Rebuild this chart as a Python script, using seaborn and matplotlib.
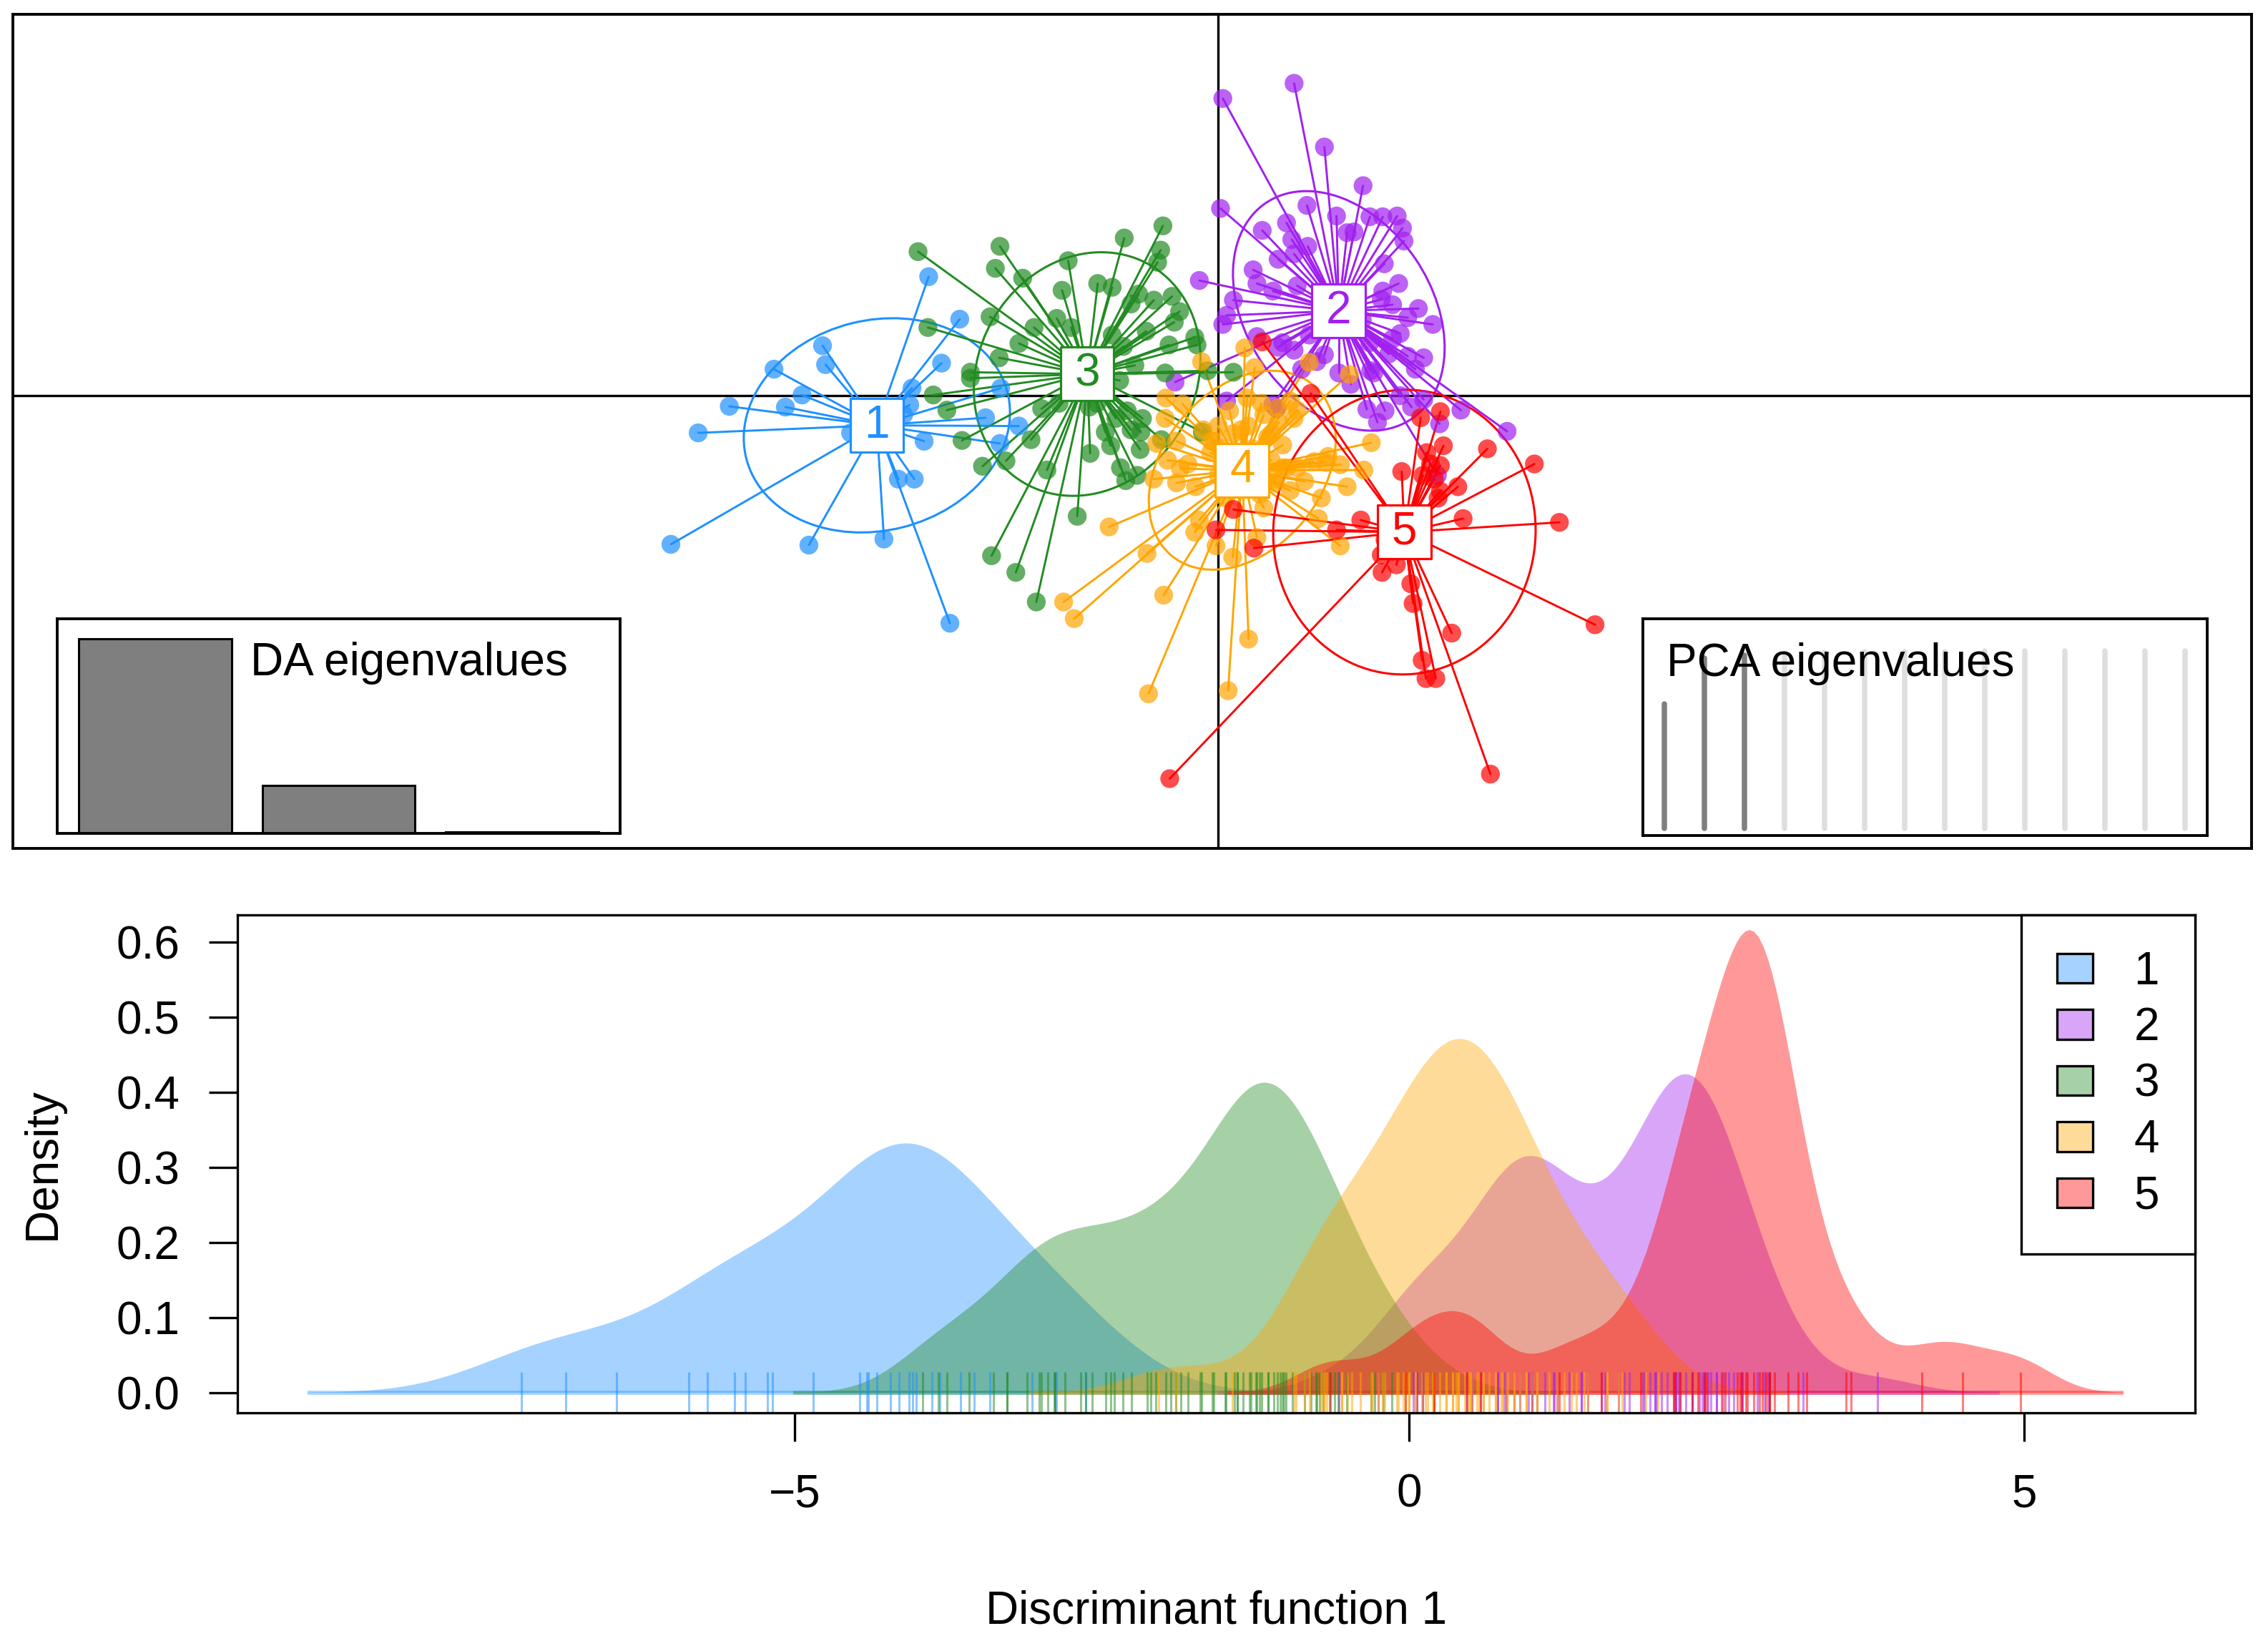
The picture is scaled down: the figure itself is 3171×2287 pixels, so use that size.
import numpy as np
import pandas as pd
import seaborn as sns
from matplotlib import pyplot as plt
from matplotlib.colors import to_rgba
from matplotlib.patches import Ellipse, Patch

sns.set_theme(style="white")
plt.rcParams["font.family"] = ["Liberation Sans", "DejaVu Sans"]
plt.rcParams["text.color"] = "black"
plt.rcParams["axes.labelcolor"] = "black"
plt.rcParams["xtick.color"] = "black"
plt.rcParams["ytick.color"] = "black"

GROUPS = ["1", "2", "3", "4", "5"]
COLORS = ["#1E90FF", "#A020F0", "#228B22", "#FFA500", "#FF0000"]

# discriminant function scores (LD1, LD2) per cluster
grp1_ld1 = [-3.82, -3.41, -5.22, -5.18, -5.86, -3.65, -4.04, -5.49, -6.45, -5.71, -6.86, -4.07, -2.87, -3.07,
            -2.63, -4.85, -3.88, -2.88, -4.22, -4.01, -7.22, -5.40, -4.41, -3.54, -4.47, -4.40, -4.33, -4.15]
grp1_ld2 = [1.57, 1.01, 0.66, 0.41, 0.35, 0.43, 0.10, 0.01, -0.14, -0.15, -0.49, -0.12, 0.10, -0.29,
            -0.40, -0.49, -0.60, -0.63, -1.10, -1.10, -1.96, -1.97, -1.89, -3.00, -0.20, -0.50, -0.30, -0.25]

grp2_ld1 = [0.06, 1.00, 1.40, 1.91, 0.03, 1.17, 1.56, 2.00, 2.17, 2.36, 2.43, 2.45, 1.70, 1.79, 0.58, 0.90,
            0.97, 1.18, 1.00, 0.79, 0.46, 2.19, -0.25, 0.51, 1.04, 0.72, 2.38, 2.17, 2.15, 0.20, 0.11, 0.06,
            2.64, 2.83, 2.50, 2.40, 0.51, 0.79, 1.40, 2.71, 2.50, 2.01, 1.59, 0.11, 0.72, 1.96, 2.71, 2.92,
            3.20, 3.81, 2.89, -0.57, 0.77, 1.20, 1.00, 0.85, 1.30, 2.00, 2.25, 2.05, 1.90, 1.45, 2.30, 2.60,
            1.10, 2.20, 2.40, 2.55, 2.10, 2.30, 1.75]
grp2_ld2 = [3.92, 4.12, 3.28, 2.77, 2.47, 2.51, 2.37, 2.36, 2.36, 2.37, 2.21, 2.04, 2.15, 2.16, 2.18, 2.28,
            2.06, 1.97, 1.87, 1.80, 1.66, 1.74, 1.52, 1.48, 1.45, 1.38, 1.48, 1.38, 1.27, 1.26, 1.06, 0.94,
            1.15, 0.94, 1.03, 0.82, 0.78, 0.64, 0.54, 0.50, 0.52, 0.33, 0.30, -0.07, -0.12, -0.18, -0.05, -0.37,
            -0.19, -0.47, -1.05, 0.18, -0.17, 0.80, 0.60, 0.70, 0.45, 0.70, 0.55, 0.30, 1.00, 1.30, 0.75, 0.35,
            0.35, -0.20, 0.00, -0.15, -0.35, 1.20, 0.15]

grp3_ld1 = [-3.96, -2.88, -2.94, -2.58, -1.98, -1.24, -0.73, -0.76, -0.80, -2.06, -1.59, -1.40, -2.13, -1.94,
            -2.43, -3.01, -3.83, -2.63, -2.89, -3.27, -3.27, -3.76, -3.58, -3.38, -3.11, -2.80, -2.47, -2.33,
            -2.26, -1.86, -1.69, -1.49, -1.42, -1.29, -1.22, -1.07, -1.03, -1.02, -0.75, -0.65, -0.58, -0.51,
            -0.61, -0.85, -1.05, -1.15, -0.31, -0.28, 0.20, -0.14, -0.21, -2.99, -2.67, -2.40, -1.50, -1.30,
            -1.10, -1.90, -1.20, -1.00, -1.80, -1.40, -0.70, -1.60, -1.25, -0.95, -1.15, -2.10, -1.35, -1.70]
grp3_ld2 = [1.90, 1.97, 1.68, 1.55, 1.78, 2.08, 2.24, 1.92, 1.76, 1.39, 1.48, 1.43, 1.02, 0.90,
            0.90, 1.04, 0.90, 0.69, 0.50, 0.31, 0.23, 0.01, -0.19, -0.59, -0.93, -0.86, -0.58, -0.17,
            -0.98, -1.59, -0.76, -0.48, -0.66, -0.95, -1.12, -1.05, -0.71, -0.48, -0.58, 0.67, 0.97, 1.11,
            1.31, 1.26, 1.34, 1.21, 0.77, 0.67, 0.31, 0.33, -0.48, -2.11, -2.33, -2.72, 0.50, 0.20,
            0.40, 0.10, -0.20, -0.30, 0.50, 0.80, 0.30, -0.10, 0.65, 0.85, -0.45, -0.10, -0.30, -0.15]

grp4_ld1 = [0.35, -0.22, 0.48, 1.20, 1.73, -0.69, -0.47, 0.38, 0.57, 0.79, 1.04, 0.95, 2.02, -0.81, -0.67,
            -0.50, -0.55, -0.09, 1.26, 1.42, 1.61, 1.92, 1.70, 1.14, 1.36, 0.60, 1.32, 1.61, -1.44, -0.25,
            -0.31, -0.03, 0.19, 0.51, -0.94, -0.72, -2.04, -1.90, 0.40, -0.92, 0.13, 0.85, 1.04, 0.76,
            -0.70, -0.55, -0.40, -0.30, -0.20, -0.10, 0.00, 0.10, 0.15, 0.20, 0.30, 0.35, 0.40, 0.45, 0.50, 0.55,
            0.60, 0.65, 0.70, 0.75, 0.80, 0.85, 0.90, 0.95, 1.00, -0.05, 0.05, 0.20, 0.30, 0.25, 0.50, 0.70,
            1.45, -0.85, 0.00, 0.05]
grp4_ld2 = [0.63, 0.45, 0.37, 0.44, 0.28, -0.03, -0.11, -0.03, -0.10, -0.16, -0.19, -0.07, -0.62, -0.63, -0.85,
            -0.96, -1.15, -0.60, -0.87, -0.88, -0.91, -0.98, -1.20, -1.13, -1.35, -1.48, -1.62, -1.98, -1.73, -1.64,
            -1.80, -1.98, -2.13, -1.87, -2.08, -2.63, -2.72, -2.94, -3.21, -3.93, -3.89, -0.95, -0.95, -1.10,
            -0.30, -0.60, -0.90, -1.20, -0.45, -0.75, -1.05, -1.35, -0.20, -0.50, -0.80, -1.10, -0.40, -0.70, -1.00, -1.30,
            -0.25, -0.55, -0.85, -1.15, -0.35, -0.65, -0.95, -1.25, -0.30, -0.60, -0.90, -1.20, -0.45, -0.75, -1.05, -0.50,
            -0.80, -1.10, -0.40, -0.70]

grp5_ld1 = [1.22, 0.58, 2.67, 2.93, 2.97, 3.55, 4.17, 2.42, 2.93, 3.16, 2.93, 3.23, 4.50, 1.88, 1.56, -0.03,
            0.47, 2.16, 2.35, 2.54, 2.57, 3.08, 4.97, 2.69, 2.74, 2.87, 3.59, -0.64, 2.20, 2.40, 2.30, 2.15,
            2.80, 2.75, 2.85, 2.70, 2.90, 0.20]
grp5_ld2 = [0.03, 0.71, -0.29, -0.21, -0.66, -0.70, -0.90, -1.00, -0.92, -1.20, -1.26, -1.62, -1.67, -1.64, -1.77, -1.77,
            -2.01, -2.33, -2.23, -2.48, -2.74, -3.13, -3.02, -3.49, -3.73, -3.73, -4.99, -5.05, -1.90, -1.85, -2.05, -2.10,
            -0.90, -0.75, -1.10, -1.05, -1.35, -1.50]

density_bw = [0.58, 0.33, 0.35, 0.35, 0.28]

# eigenvalue insets
da_axes = ["1", "2", "3"]
da_eigenvalues = [1.0, 0.246, 0.008]
pca_cumvar = [0.70, 0.96, 0.975, 0.985, 0.99, 0.993, 0.995, 0.996, 0.997, 0.998, 0.999, 0.9995, 1.0, 1.0]
pca_retained = 3

FIG_W, FIG_H = 3171, 2287
FS = 46


def px_axes(fig, x0, y0, x1, y1):
    return fig.add_axes([x0 / FIG_W, 1 - y1 / FIG_H, (x1 - x0) / FIG_W, (y1 - y0) / FIG_H])


def frame(ax, lw=2.8):
    for spine in ax.spines.values():
        spine.set_color("black")
        spine.set_linewidth(lw)
        spine.set_visible(True)


def draw_scatter(ax, df):
    for g, col in zip(GROUPS, COLORS):
        sub = df[df.group == g]
        cx, cy = sub.ld1.mean(), sub.ld2.mean()
        for x, y in zip(sub.ld1, sub.ld2):
            ax.plot([cx, x], [cy, y], color=col, lw=2.1, zorder=2)
        cov = np.cov(sub.ld1, sub.ld2, bias=True)
        vals, vecs = np.linalg.eigh(cov)
        angle = np.degrees(np.arctan2(vecs[1, 1], vecs[0, 1]))
        ax.add_patch(Ellipse((cx, cy), 3 * np.sqrt(vals[1]), 3 * np.sqrt(vals[0]), angle=angle,
                             fill=False, edgecolor=col, lw=2.2, zorder=2))

    sns.scatterplot(data=df, x="ld1", y="ld2", hue="group", hue_order=GROUPS, palette=COLORS,
                    s=360, alpha=0.7, linewidth=0, legend=False, ax=ax, zorder=3)

    centres = df.groupby("group")[["ld1", "ld2"]].mean().loc[GROUPS]
    ax.scatter(centres.ld1, centres.ld2, marker="s", s=2900, facecolor="white",
               edgecolors=COLORS, linewidths=2.3, zorder=5)
    for (g, row), col in zip(centres.iterrows(), COLORS):
        ax.text(row.ld1, row.ld2, g, color=col, fontsize=FS, ha="center", va="center", zorder=6)

    ax.axhline(0, color="black", lw=2.4, zorder=1)
    ax.axvline(0, color="black", lw=2.4, zorder=1)
    ax.set_xlim(-15.90, 13.63)
    ax.set_ylim(-5.97, 5.03)
    ax.set_xticks([])
    ax.set_yticks([])
    ax.set_xlabel("")
    ax.set_ylabel("")
    frame(ax)


def draw_da_inset(ax):
    sns.barplot(x=da_axes, y=da_eigenvalues, color="#7F7F7F", saturation=1, edgecolor="black",
                linewidth=2.2, width=0.833, ax=ax)
    ax.set_xlim(-0.533, 2.533)
    ax.set_ylim(0, da_eigenvalues[0] * 300 / 272)
    ax.set_xticks([])
    ax.set_yticks([])
    ax.set_xlabel("")
    ax.set_ylabel("")
    ax.text(0.343, 0.737, "DA eigenvalues", transform=ax.transAxes, fontsize=FS, ha="left", va="baseline")
    frame(ax)


def draw_pca_inset(ax):
    pcs = np.arange(1, len(pca_cumvar) + 1)
    cols = ["#7F7F7F" if i < pca_retained else "#DEDEDE" for i in range(len(pcs))]
    lines = ax.vlines(pcs, 0, pca_cumvar, colors=cols, lw=5.4)
    lines.set_capstyle("round")
    ax.set_xlim(0.464, 14.55)
    ax.set_ylim(-0.04, 1.18)
    ax.set_xticks([])
    ax.set_yticks([])
    ax.text(0.042, 0.736, "PCA eigenvalues", transform=ax.transAxes, fontsize=FS, ha="left",
            va="baseline", zorder=5)
    frame(ax)


def draw_density(ax, df):
    for g, col, h in zip(GROUPS, COLORS, density_bw):
        x = df.loc[df.group == g, "ld1"].to_numpy()
        scott = x.std(ddof=1) * len(x) ** -0.2
        sns.kdeplot(x=x, ax=ax, fill=True, color=col, bw_adjust=h / scott, cut=3,
                    facecolor=to_rgba(col, 0.4), edgecolor="none", linewidth=0)
        # polygon border along the baseline
        ax.hlines(0, x.min() - 3 * h, x.max() + 3 * h, colors=[to_rgba(col, 0.4)], lw=4)
    for g, col in zip(GROUPS, COLORS):
        x = df.loc[df.group == g, "ld1"].to_numpy()
        sns.rugplot(x=x, ax=ax, height=0.0825, color=col, alpha=0.5, linewidth=2.2,
                    expand_margins=False)

    ax.set_xlim(-9.53, 6.39)
    ax.set_ylim(-0.0267, 0.6362)
    ax.set_xticks([-5, 0, 5])
    ax.set_yticks([0.0, 0.1, 0.2, 0.3, 0.4, 0.5, 0.6])
    ax.tick_params(axis="both", which="major", bottom=True, left=True, direction="out",
                   length=29, width=2.4, labelsize=FS)
    ax.tick_params(axis="x", pad=32)
    ax.tick_params(axis="y", pad=29)
    ax.set_xlabel("Discriminant function 1", fontsize=FS)
    ax.set_ylabel("Density", fontsize=FS)
    ax.xaxis.set_label_coords(0.5, -0.399)
    ax.xaxis.label.set_verticalalignment("center")
    ax.yaxis.set_label_coords(-0.0994, 0.5)
    ax.yaxis.label.set_verticalalignment("center")
    frame(ax, 2.4)

    handles = [Patch(facecolor=to_rgba(c, 0.4), edgecolor="black", linewidth=2.4) for c in COLORS]
    leg = ax.legend(handles, GROUPS, loc="upper right", bbox_to_anchor=(1, 1), borderaxespad=0,
                    fontsize=FS, frameon=True, fancybox=False, framealpha=1, edgecolor="black",
                    handlelength=0.78, handleheight=0.62, handletextpad=0.9, borderpad=0.78,
                    labelspacing=0.29)
    leg.get_frame().set_linewidth(2.4)


def main():
    ld1 = [grp1_ld1, grp2_ld1, grp3_ld1, grp4_ld1, grp5_ld1]
    ld2 = [grp1_ld2, grp2_ld2, grp3_ld2, grp4_ld2, grp5_ld2]
    df = pd.concat([pd.DataFrame({"group": g, "ld1": x, "ld2": y}) for g, x, y in zip(GROUPS, ld1, ld2)],
                   ignore_index=True)

    fig = plt.figure(figsize=(FIG_W / 100, FIG_H / 100), dpi=100)
    draw_scatter(px_axes(fig, 18, 20, 3148, 1186), df)
    draw_da_inset(px_axes(fig, 80, 865, 867, 1165))
    draw_pca_inset(px_axes(fig, 2297, 865, 3086, 1168))
    draw_density(px_axes(fig, 332, 1279, 3069, 1975), df)
    fig.savefig("out.png", dpi=100, facecolor="white")


if __name__ == "__main__":
    main()
